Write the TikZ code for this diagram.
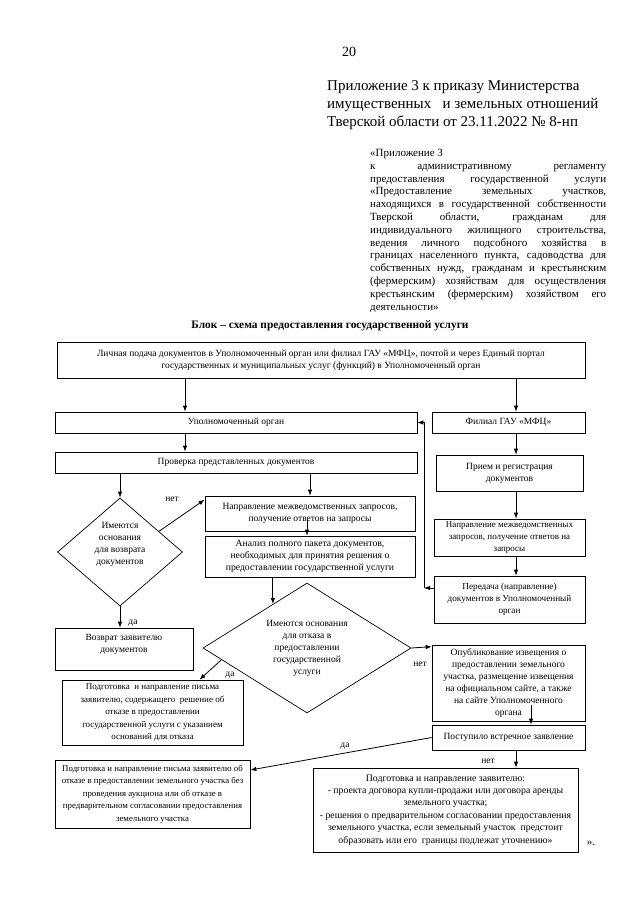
\documentclass[tikz,border=0pt]{standalone}
\usepackage{fontspec}
\setmainfont{Liberation Serif}
\usetikzlibrary{shapes.geometric,arrows.meta,calc}
\begin{document}
\begin{tikzpicture}[x=1pt,y=-1pt,
 box/.style={draw, line width=0.7pt, align=center, inner sep=1pt, font=\fontsize{9.5}{12}\selectfont},
 dia/.style={draw, diamond, line width=0.7pt, align=center, inner sep=0pt, font=\fontsize{9.5}{12}\selectfont},
 arr/.style={line width=0.8pt, -{Latex[length=6pt,width=4.5pt]}},
 lbl/.style={font=\fontsize{9.5}{11}\selectfont, inner sep=0pt}]
\useasboundingbox (0,0) rectangle (640,905);

% header
\node[font=\fontsize{14}{16}\selectfont, inner sep=0pt] (pg) at (349,52) {20};
\node[anchor=north west, align=left, inner sep=0pt, font=\fontsize{15}{18}\selectfont] (hdr) at (327,80)
 {Приложение 3 к приказу Министерства\\имущественных \ \ и земельных отношений\\Тверской области от 23.11.2022 № 8-нп};

\node[anchor=north west, align=left, inner sep=0pt, font=\fontsize{11}{12.8}\selectfont] (app) at (370,149)
 {«Приложение 3\\
 \makebox[236pt][s]{к административному регламенту}\\
 \makebox[236pt][s]{предоставления государственной услуги}\\
 \makebox[236pt][s]{«Предоставление земельных участков,}\\
 \makebox[236pt][s]{находящихся в государственной собственности}\\
 \makebox[236pt][s]{Тверской области, гражданам для}\\
 \makebox[236pt][s]{индивидуального жилищного строительства,}\\
 \makebox[236pt][s]{ведения личного подсобного хозяйства в}\\
 \makebox[236pt][s]{границах населенного пункта, садоводства для}\\
 \makebox[236pt][s]{собственных нужд, гражданам и крестьянским}\\
 \makebox[236pt][s]{(фермерским) хозяйствам для осуществления}\\
 \makebox[236pt][s]{крестьянским (фермерским) хозяйством его}\\
 деятельности»};

\node[font=\bfseries\fontsize{11.4}{13}\selectfont, inner sep=0pt] (title) at (330,326)
 {Блок – схема предоставления государственной услуги};

% boxes
\node[box, minimum width=528pt, minimum height=36pt] (A) at (321,360)
 {Личная подача документов в Уполномоченный орган или филиал ГАУ «МФЦ», почтой и через Единый портал\\государственных и муниципальных услуг (функций) в Уполномоченный орган};
\node[box, minimum width=362pt, minimum height=21pt] (B) at (236,422.5) {Уполномоченный орган};
\node[box, minimum width=153pt, minimum height=21pt] (C) at (508.5,422.5) {Филиал ГАУ «МФЦ»};
\node[box, minimum width=362pt, minimum height=21pt] (D) at (236,462.5) {Проверка представленных документов};
\node[box, minimum width=147pt, minimum height=36pt] (E) at (509.5,473) {Прием и регистрация\\документов};
\node[box, font=\fontsize{9}{12}\selectfont, minimum width=151pt, minimum height=37pt] (F) at (509.5,537.5) {Направление межведомственных\\запросов, получение ответов на\\запросы};
\node[box, font=\fontsize{9.2}{12}\selectfont, minimum width=151pt, minimum height=47pt] (G) at (509.5,599.5) {Передача (направление)\\документов в Уполномоченный\\орган};
\node[box, minimum width=210pt, minimum height=35pt] (H) at (310,513.5) {Направление межведомственных запросов,\\получение ответов на запросы};
\node[box, font=\fontsize{9.7}{12}\selectfont, minimum width=210pt, minimum height=41pt] (I) at (310,556.5) {Анализ полного пакета документов,\\необходимых для принятия решения о\\предоставлении государственной услуги};
\node[dia, aspect=1.15, minimum width=125pt, minimum height=108pt] (J) at (120,552) {Имеются\\основания\\для возврата\\документов\\[6pt]};
\node[box, minimum width=138pt, minimum height=42pt] (K) at (124,649) {Возврат заявителю\\документов\\~};
\node[dia, aspect=1.6, minimum width=208pt, minimum height=130pt] (L) at (307,648) {Имеются основания\\для отказа в\\предоставлении\\государственной\\услуги};
\node[box, font=\fontsize{9}{12.5}\selectfont, minimum width=181pt, minimum height=65pt] (M) at (152.5,712.5) {Подготовка \ и направление письма\\заявителю, содержащего \ решение об\\отказе в предоставлении\\государственной услуги с указанием\\оснований для отказа};
\node[box, minimum width=153pt, minimum height=76pt] (N) at (508.5,683) {Опубликование извещения о\\предоставлении земельного\\участка, размещение извещения\\на официальном сайте, а также\\на сайте Уполномоченного\\органа};
\node[box, minimum width=153pt, minimum height=25pt] (O) at (508.5,737.5) {Поступило встречное заявление};
\node[box, font=\fontsize{8.8}{12.5}\selectfont, minimum width=195pt, minimum height=68pt] (P) at (152.5,794) {Подготовка и направление письма заявителю об\\отказе в предоставлении земельного участка без\\проведения аукциона или об отказе в\\предварительном согласовании предоставления\\земельного участка};
\node[box, font=\fontsize{9.8}{12.4}\selectfont, minimum width=265pt, minimum height=84pt] (Q) at (445.5,810) {Подготовка и направление заявителю:\\- проекта договора купли-продажи или договора аренды\\земельного участка;\\- решения о предварительном согласовании предоставления\\земельного участка, если земельный участок \ предстоит\\образовать или его \ границы подлежат уточнению»};
\node[font=\fontsize{11}{13}\selectfont, inner sep=0pt] (end) at (591,843) {».};

% x positions
\coordinate (xl) at (185,0);
\coordinate (xr) at (516,0);
\coordinate (xh) at (310,0);
\coordinate (xhi) at (307,0);
\coordinate (xn) at (531,0);
\coordinate (fb) at (424,588);
\coordinate (LI) at ($(L.north)!0.327!(L.west)$);

% connectors
\draw[arr] (A.south -| xl) -- (B.north -| xl);
\draw[arr] (A.south -| xr) -- (C.north -| xr);
\draw[arr] (B.south -| xl) -- (D.north -| xl);
\draw[arr] (C.south -| xr) -- (E.north -| xr);
\draw[arr] (E.south -| xr) -- (F.north -| xr);
\draw[arr] (F.south -| xr) -- (G.north -| xr);
\draw[arr] (G.west |- fb) -- (fb);
\draw[arr] (fb) -- (fb |- B.east) -- (B.east);
\draw[arr] (D.south -| J.north) -- (J.north);
\draw[arr] (D.south -| xh) -- (H.north -| xh);
\draw[arr] ($(J.north)!0.62!(J.east)$) -- ([yshift=-4pt]H.north west);
\node[lbl] (l1) at (172,499) {нет};
\draw[arr] ([yshift=11pt]H.south -| xhi) -- (I.north -| xhi);
\draw[arr] (I.south -| LI) -- (LI);
\draw[arr] (J.south) -- (J.south |- K.north);
\node[lbl] (l2) at (133,623) {да};
\draw[arr] ($(L.west)!0.18!(L.south)$) -- ([xshift=47pt]M.north);
\node[lbl] (l3) at (230,675) {да};
\draw[arr] (L.east) -- ([yshift=-2pt]N.north west);
\node[lbl] (l4) at (420,664) {нет};
\draw[arr] ([yshift=16pt]N.south -| xn) -- (O.north -| xn);
\draw[arr] (O.west) -- ([yshift=24pt]P.east);
\node[lbl] (l5) at (345,746) {да};
\draw[arr] (O.south -| xr) -- (Q.north -| xr);
\node[lbl] (l6) at (488,761) {нет};
\end{tikzpicture}
\end{document}
